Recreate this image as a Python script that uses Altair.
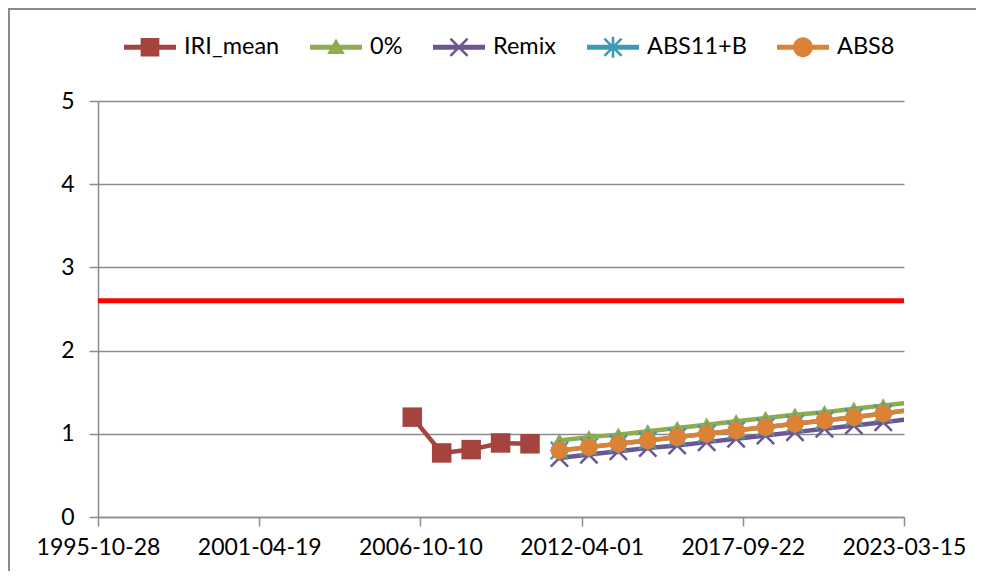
import altair as alt
import pandas as pd

# ---------------- data ----------------
SERIES = ["IRI_mean", "0%", "Remix", "ABS11+B", "ABS8"]
COLORS = ["#A5433F", "#8EAB4E", "#6C5592", "#3E9AB3", "#DC8236"]

IRI_DATES = ["2006-07-01", "2007-07-01", "2008-07-01", "2009-07-01", "2010-07-01"]
IRI_MEAN = [1.20, 0.77, 0.81, 0.89, 0.88]

FC_DATES = ["2011-07-01", "2012-07-01", "2013-07-01", "2014-07-01", "2015-07-01",
            "2016-07-01", "2017-07-01", "2018-07-01", "2019-07-01", "2020-07-01",
            "2021-07-01", "2022-07-01", "2023-07-01"]
P0 = [0.92, 0.96, 0.99, 1.03, 1.07, 1.11, 1.15, 1.19, 1.23, 1.26, 1.30, 1.34, 1.38]
REMIX = [0.71, 0.75, 0.79, 0.83, 0.86, 0.90, 0.94, 0.98, 1.02, 1.06, 1.10, 1.14, 1.18]
ABS11B = [0.80, 0.84, 0.88, 0.92, 0.96, 1.00, 1.04, 1.08, 1.12, 1.16, 1.20, 1.245, 1.29]
ABS8 = [0.80, 0.84, 0.88, 0.92, 0.96, 1.00, 1.04, 1.08, 1.12, 1.16, 1.20, 1.245, 1.29]

LIMIT = [2.6]

X_TICKS = ["1995-10-28", "2001-04-19", "2006-10-10", "2012-04-01", "2017-09-22", "2023-03-15"]
Y_TICKS = [0, 1, 2, 3, 4, 5]

FONT = "Lato"
GRID = "#8c8c8c"

# ---------------- tables ----------------
series_values = {
    "IRI_mean": (IRI_DATES, IRI_MEAN),
    "0%": (FC_DATES, P0),
    "Remix": (FC_DATES, REMIX),
    "ABS11+B": (FC_DATES, ABS11B),
    "ABS8": (FC_DATES, ABS8),
}


def dt(s):
    y, m, d = (int(v) for v in s.split("-"))
    return alt.DateTime(year=y, month=m, date=d, utc=True)


x_scale = alt.Scale(type="utc", domain=[dt(X_TICKS[0]), dt(X_TICKS[-1])])
x_axis = alt.Axis(values=[dt(t) for t in X_TICKS],
                  labelExpr="utcFormat(datum.value, '%Y-%m-%d')",
                  title=None, grid=False, domainColor=GRID, domainWidth=1.5,
                  tickColor=GRID, tickWidth=1.5, tickSize=9,
                  labelFont=FONT, labelFontSize=23, labelColor="black",
                  labelPadding=10, labelFlush=False, labelOverlap=False)
y_scale = alt.Scale(domain=[0, 5], nice=False, zero=True)
y_axis = alt.Axis(values=Y_TICKS, title=None, grid=True, gridColor=GRID, gridWidth=1.5,
                  domainColor=GRID, domainWidth=1.5, tickColor=GRID, tickWidth=1.5,
                  tickSize=9, labelFont=FONT, labelFontSize=23, labelColor="black",
                  labelPadding=15)

X = alt.X("date:T", scale=x_scale, axis=x_axis)
Y = alt.Y("value:Q", scale=y_scale, axis=y_axis)

# data marker shapes
MARKERS = {
    "IRI_mean": dict(shape="square", filled=True, size=380),
    "0%": dict(shape="triangle-up", filled=True, size=280),
    "Remix": dict(shape="M-1,-1L1,1M-1,1L1,-1", filled=False, size=300, strokeWidth=2.5),
    "ABS11+B": dict(shape="M-1,-1L1,1M-1,1L1,-1M0,-1.2L0,1.2", filled=False, size=300, strokeWidth=2.5),
    "ABS8": dict(shape="circle", filled=True, size=314),
}

# legend symbol paths (line + marker, all filled, clockwise)
LINE = "M-1,-0.1L1,-0.1L1,0.1L-1,0.1Z"
XBARS = ("M-0.295,-0.365L0.365,0.295L0.295,0.365L-0.365,-0.295Z"
         "M-0.365,0.295L0.295,-0.365L0.365,-0.295L-0.295,0.365Z")
LEGEND_PATHS = [
    LINE + "M-0.36,-0.36L0.36,-0.36L0.36,0.36L-0.36,0.36Z",
    LINE + "M0,-0.34L0.34,0.26L-0.34,0.26Z",
    LINE + XBARS,
    LINE + XBARS + "M-0.05,-0.4L0.05,-0.4L0.05,0.4L-0.05,0.4Z",
    LINE + "M-0.38,0A0.38,0.38 0 1,1 0.38,0A0.38,0.38 0 1,1 -0.38,0Z",
]

layers = []

# frame of the chart area (decoration): top and left edges only
frame_df = pd.DataFrame({"k": [0]})
frame_top = alt.Chart(frame_df).mark_rule(color="#8a8a8a", strokeWidth=2).encode(
    x=alt.value(-90), x2=alt.value(900), y=alt.value(-92))
frame_left = alt.Chart(frame_df).mark_rule(color="#8a8a8a", strokeWidth=2).encode(
    x=alt.value(-89), y=alt.value(-93), y2=alt.value(600))
layers += [frame_top, frame_left]

# limit line
limit = alt.Chart(pd.DataFrame({"value": LIMIT})).mark_rule(color="#FF0000", strokeWidth=5).encode(y=Y)
layers.append(limit)

for name, color in zip(SERIES, COLORS):
    dates, vals = series_values[name]
    df = pd.DataFrame({"date": dates, "value": vals})
    line = alt.Chart(df).mark_line(color=color, strokeWidth=4.5, clip=True,
                                   strokeJoin="round", strokeCap="round").encode(x=X, y=Y)
    mk = MARKERS[name]
    dfm = df[df["date"] <= X_TICKS[-1]]
    pts = alt.Chart(dfm).mark_point(color=color, opacity=1, clip=True, **mk).encode(x=X, y=Y)
    layers += [line, pts]

leg_kw = dict(orient="none", legendX=26, legendY=-80, direction="horizontal", title=None,
              symbolSize=2704, symbolStrokeWidth=0, symbolOpacity=1, labelFont=FONT,
              labelFontSize=23.5, labelColor="black", labelOffset=8, columnPadding=30,
              padding=0, labelLimit=300)
legend_layer = alt.Chart(pd.DataFrame({"series": SERIES})).mark_point(filled=True, opacity=0).encode(
    color=alt.Color("series:N", scale=alt.Scale(domain=SERIES, range=COLORS), legend=alt.Legend(**leg_kw)),
    shape=alt.Shape("series:N", scale=alt.Scale(domain=SERIES, range=LEGEND_PATHS), legend=alt.Legend(**leg_kw)),
)
layers.append(legend_layer)

chart = alt.layer(*layers).properties(
    width=806, height=416,
    padding={"left": 90, "top": 93, "right": 72, "bottom": 54},
    autosize=alt.AutoSizeParams(type="none"),
    background="white",
).configure_view(stroke="transparent")

chart.save("out.html", embed_options={"renderer": "svg", "actions": False})
